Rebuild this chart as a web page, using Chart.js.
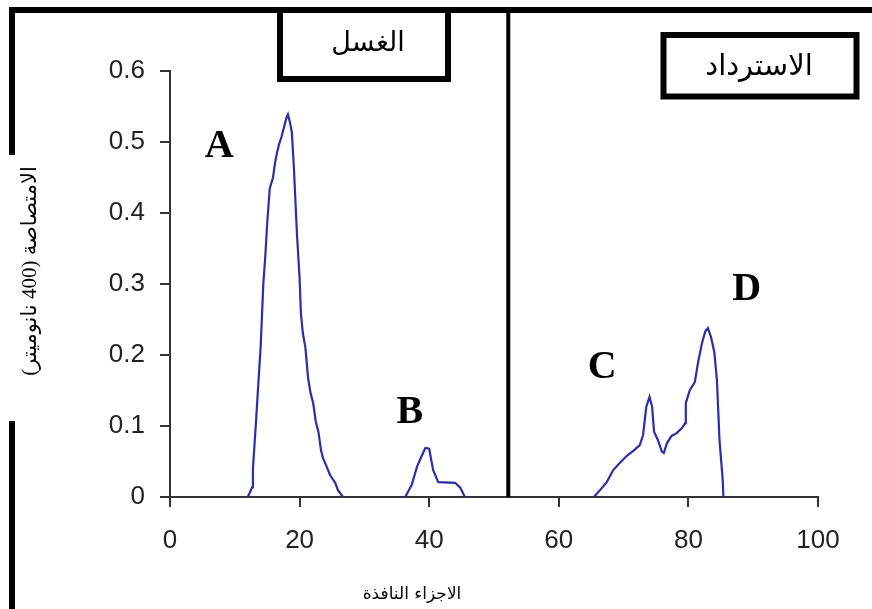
<!DOCTYPE html>
<html>
<head>
<meta charset="utf-8">
<script src="https://cdn.jsdelivr.net/npm/chart.js@4/dist/chart.umd.min.js"></script>
<style>
  body { margin: 0; background: #fff; }
  canvas { display: block; }
</style>
</head>
<body>
<canvas id="chart" width="872" height="609"></canvas>
<script>
// fraction number (x) and absorbance (y)
const peakA_x = [12.0, 12.7, 12.8, 13.3, 13.6, 14.0, 14.4, 14.7, 15.0, 15.4, 15.9, 16.2, 16.5, 16.8, 17.2, 17.6, 18.0, 18.2,
                 18.5, 18.8, 19.1, 19.6, 20.0, 20.2, 20.5, 20.9, 21.3, 21.7, 22.1, 22.5, 22.9, 23.3, 23.6, 24.2, 24.7, 25.5, 25.9, 26.7];
const peakA_y = [0, 0.014, 0.04, 0.11, 0.155, 0.214, 0.30, 0.338, 0.386, 0.435, 0.45, 0.47, 0.484, 0.496, 0.507, 0.521, 0.535, 0.539,
                 0.528, 0.514, 0.467, 0.369, 0.308, 0.259, 0.231, 0.21, 0.168, 0.146, 0.132, 0.106, 0.092, 0.066, 0.055, 0.042, 0.031, 0.02, 0.01, 0];

const peakB_x = [36.3, 37.3, 38.1, 38.7, 39.4, 40.0, 40.6, 41.4, 44.0, 44.8, 45.5];
const peakB_y = [0, 0.017, 0.042, 0.055, 0.069, 0.068, 0.038, 0.021, 0.02, 0.013, 0];

const peakCD_x = [65.4, 66.4, 67.4, 68.4, 69.4, 70.5, 71.5, 72.5, 73.0, 73.5, 74.0, 74.4, 74.7, 75.3, 75.9, 76.2, 76.7, 77.4,
                  78.2, 79.0, 79.5, 79.6, 80.2, 81.0, 81.5, 82.1, 82.6, 83.0, 83.5, 84.0, 84.4, 84.8, 85.3, 85.4];
const peakCD_y = [0, 0.01, 0.021, 0.038, 0.048, 0.058, 0.065, 0.073, 0.087, 0.127, 0.141, 0.127, 0.092, 0.08, 0.064, 0.062, 0.076, 0.086,
                  0.09, 0.097, 0.104, 0.132, 0.15, 0.162, 0.19, 0.217, 0.233, 0.238, 0.225, 0.204, 0.165, 0.08, 0.024, 0];

const xTicks = [0, 20, 40, 60, 80, 100];
const yTicks = [0, 0.1, 0.2, 0.3, 0.4, 0.5, 0.6];

const peakLetters = ["A", "B", "C", "D"];
const letterX = [7.6, 37.0, 66.7, 89.0];
const letterY = [0.479, 0.104, 0.168, 0.277];

const dividerX = 52.2;
const washText = "الغسل";
const recoverText = "الاسترداد";
const yTitle = "الامتصاصة (400 نانوميتر)";
const xTitle = "الاجزاء النافذة";

const lineColor = "#2d2da8";
const axisColor = "#333";

function toPoints(xs, ys) {
    return xs.map((x, i) => ({ x: x, y: ys[i] }));
}

function peakSet(xs, ys) {
    return {
        data: toPoints(xs, ys),
        borderColor: lineColor,
        borderWidth: 2.2,
        pointRadius: 0,
        fill: false,
        tension: 0
    };
}

// frame, boxes, divider, axis titles and peak letters
const decorations = {
    id: "decorations",
    afterDraw(chart) {
        const c = chart.ctx;
        const sx = chart.scales.x, sy = chart.scales.y;
        c.save();
        c.strokeStyle = "#000";
        c.lineCap = "butt";

        // outer frame (top and broken left side)
        c.lineWidth = 6;
        c.beginPath();
        c.moveTo(9, 10); c.lineTo(872, 10);
        c.moveTo(12, 7); c.lineTo(12, 155);
        c.moveTo(12, 421); c.lineTo(12, 609);
        c.stroke();

        // divider between wash and recovery
        c.lineWidth = 4;
        c.beginPath();
        c.moveTo(sx.getPixelForValue(dividerX), 10);
        c.lineTo(sx.getPixelForValue(dividerX), sy.getPixelForValue(0));
        c.stroke();

        // boxes
        c.lineWidth = 6;
        c.fillStyle = "#fff";
        c.fillRect(280, 10, 168, 69);
        c.strokeRect(280, 10, 168, 69);
        c.fillRect(663.5, 35, 193, 61.5);
        c.strokeRect(663.5, 35, 193, 61.5);

        c.fillStyle = "#000";
        c.textAlign = "center";
        c.textBaseline = "middle";
        c.font = "27px 'DejaVu Sans', sans-serif";
        c.fillText(washText, 368, 44);
        c.font = "29px 'DejaVu Sans', sans-serif";
        c.fillText(recoverText, 759, 67);

        // axis titles
        c.font = "17px 'DejaVu Sans', sans-serif";
        c.fillText(xTitle, 412, 595);
        c.save();
        c.translate(30, 271);
        c.rotate(-Math.PI / 2);
        c.font = "21px 'Liberation Serif', 'DejaVu Sans', serif";
        c.fillText(yTitle, 0, 0);
        c.restore();

        // peak letters
        c.font = "bold 40px 'Liberation Serif', 'Times New Roman', serif";
        c.textBaseline = "alphabetic";
        peakLetters.forEach((t, i) => {
            c.fillText(t, sx.getPixelForValue(letterX[i]), sy.getPixelForValue(letterY[i]));
        });
        c.restore();
    }
};

const tickFont = { family: "'Liberation Sans', Arial, sans-serif", size: 26 };

new Chart(document.getElementById("chart").getContext("2d"), {
    type: "line",
    data: {
        datasets: [peakSet(peakA_x, peakA_y), peakSet(peakB_x, peakB_y), peakSet(peakCD_x, peakCD_y)]
    },
    options: {
        responsive: false,
        devicePixelRatio: 1,
        animation: false,
        layout: { padding: { top: 71, right: 54, left: 0, bottom: 0 } },
        plugins: { legend: { display: false }, tooltip: { enabled: false } },
        scales: {
            x: {
                type: "linear",
                min: 0, max: 100,
                afterBuildTicks: s => { s.ticks = xTicks.map(v => ({ value: v })); },
                afterFit: s => { s.height = 112; },
                border: { display: true, color: axisColor, width: 2 },
                grid: { drawOnChartArea: false, drawTicks: true, tickLength: 10, color: axisColor, lineWidth: 2 },
                ticks: { font: tickFont, color: "#222", padding: 18, maxRotation: 0 }
            },
            y: {
                min: 0, max: 0.6,
                afterBuildTicks: s => { s.ticks = yTicks.map(v => ({ value: v })); },
                afterFit: s => { s.width = 170; },
                border: { display: true, color: axisColor, width: 2 },
                grid: { drawOnChartArea: false, drawTicks: true, tickLength: 10, color: axisColor, lineWidth: 2 },
                ticks: { font: tickFont, color: "#222", padding: 15, callback: v => String(Math.round(v * 10) / 10) }
            }
        }
    },
    plugins: [decorations]
});
</script>
</body>
</html>
